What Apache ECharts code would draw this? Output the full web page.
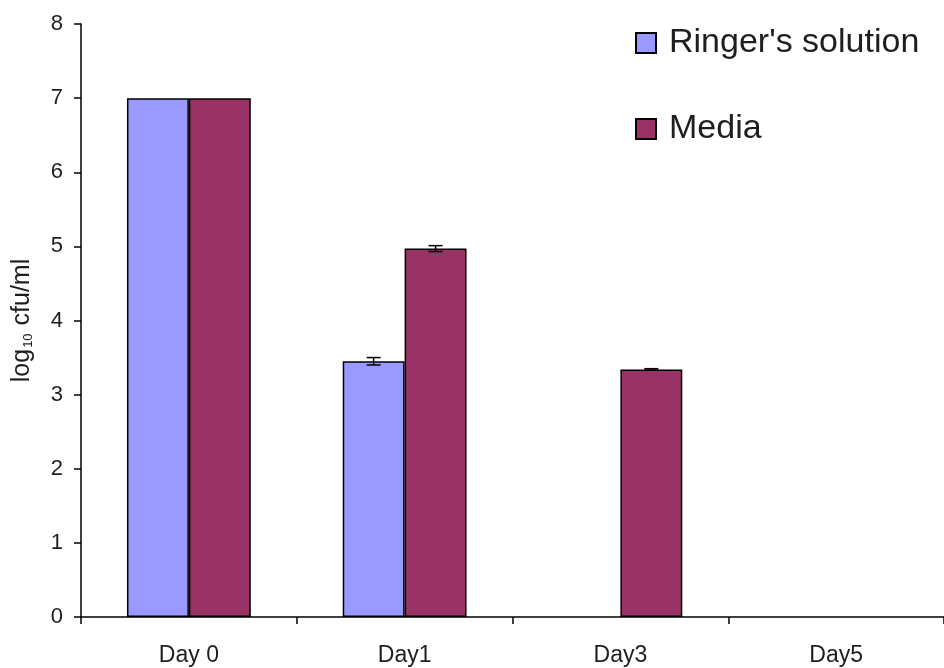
<!DOCTYPE html>
<html>
<head>
<meta charset="utf-8">
<script src="https://cdn.jsdelivr.net/npm/echarts@6/dist/echarts.min.js"></script>
<style>
  html, body { margin: 0; padding: 0; background: #fff; }
  #chart { width: 944px; height: 668px; }
</style>
</head>
<body>
<div id="chart"></div>
<script>
// Survival counts, log10 cfu/ml
const days = ['Day 0', 'Day1', 'Day3', 'Day5'];
const ringer = [7.0, 3.45, 0, 0];
const ringerErr = [0, 0.05, 0, 0];
const media = [7.0, 4.97, 3.34, 0];
const mediaErr = [0, 0.04, 0.01, 0];
const yTicks = [0, 1, 2, 3, 4, 5, 6, 7, 8];

const FONT = '"Liberation Sans", Arial, sans-serif';
const TEXT = '#1e1e1e';
const GAP_RATIO = 0.426; // barCategoryGap as fraction

const chart = echarts.init(document.getElementById('chart'), null, { renderer: 'canvas' });

// zero-height bars carry no outline so nothing is drawn along the axis
function barData(values) {
  return values.map(v => v === 0 ? { value: v, itemStyle: { borderWidth: 0 } } : v);
}

function errorSeries(values, errs, sign) {
  const data = values.map((v, i) => [i, v, errs[i]]).filter(d => d[2] > 0);
  return {
    type: 'custom',
    name: 'err' + sign,
    z: 10,
    silent: true,
    data: data,
    renderItem: function (params, api) {
      const idx = api.value(0);
      const val = api.value(1);
      const e = api.value(2);
      const band = api.size([1, 0])[0];
      const bw = band * (1 - GAP_RATIO) / 2;
      const cx = api.coord([idx, val])[0] + sign * bw / 2;
      const yTop = api.coord([idx, val + e])[1];
      const yBot = api.coord([idx, val - e])[1];
      const cap = 7;
      const style = { stroke: '#000', lineWidth: 1.5 };
      return {
        type: 'group',
        children: [
          { type: 'line', shape: { x1: cx, y1: yTop, x2: cx, y2: yBot }, style: style },
          { type: 'line', shape: { x1: cx - cap, y1: yTop, x2: cx + cap, y2: yTop }, style: style },
          { type: 'line', shape: { x1: cx - cap, y1: yBot, x2: cx + cap, y2: yBot }, style: style }
        ]
      };
    }
  };
}

const option = {
  animation: false,
  backgroundColor: '#fff',
  textStyle: { fontFamily: FONT },
  grid: { left: 81, right: 0, top: 24, bottom: 51, containLabel: false, outerBoundsMode: 'none' },
  legend: {
    data: ["Ringer's solution", 'Media'],
    orient: 'vertical',
    left: 630,
    top: 21,
    icon: 'rect',
    itemWidth: 20,
    itemHeight: 20,
    itemGap: 52,
    textStyle: { fontFamily: FONT, fontSize: 34, color: TEXT, padding: [0, 0, 0, 8] },
    selectedMode: false
  },
  xAxis: {
    type: 'category',
    data: days,
    axisLine: { lineStyle: { color: '#000', width: 1.5 } },
    axisTick: { show: true, length: 7, lineStyle: { color: '#000', width: 1.5 } },
    axisLabel: { color: TEXT, fontSize: 23, margin: 27, fontFamily: FONT },
    splitLine: { show: false }
  },
  yAxis: {
    type: 'value',
    min: 0,
    max: 8,
    interval: 1,
    name: '{a|log}{b|10}{a| cfu/ml}',
    nameLocation: 'middle',
    nameRotate: 90,
    nameGap: 46,
    nameTextStyle: {
      rich: {
        a: { fontSize: 25, color: TEXT, fontFamily: FONT },
        b: { fontSize: 13, color: TEXT, fontFamily: FONT, verticalAlign: 'bottom', padding: [12, 1, 0, 1] }
      }
    },
    axisLine: { show: true, lineStyle: { color: '#000', width: 1.5 } },
    axisTick: { show: true, length: 7, lineStyle: { color: '#000', width: 1.5 } },
    axisLabel: {
      color: TEXT, fontSize: 22, margin: 18, fontFamily: FONT,
      formatter: v => (yTicks.includes(v) ? String(v) : '')
    },
    splitLine: { show: false }
  },
  series: [
    {
      name: "Ringer's solution",
      type: 'bar',
      data: barData(ringer),
      barGap: '0%',
      barCategoryGap: (GAP_RATIO * 100) + '%',
      itemStyle: { color: '#9999FF', borderColor: '#000', borderWidth: 1.5 }
    },
    {
      name: 'Media',
      type: 'bar',
      data: barData(media),
      barGap: '0%',
      barCategoryGap: (GAP_RATIO * 100) + '%',
      itemStyle: { color: '#993366', borderColor: '#000', borderWidth: 1.5 }
    },
    errorSeries(ringer, ringerErr, -1),
    errorSeries(media, mediaErr, 1)
  ]
};

chart.setOption(option);
</script>
</body>
</html>
